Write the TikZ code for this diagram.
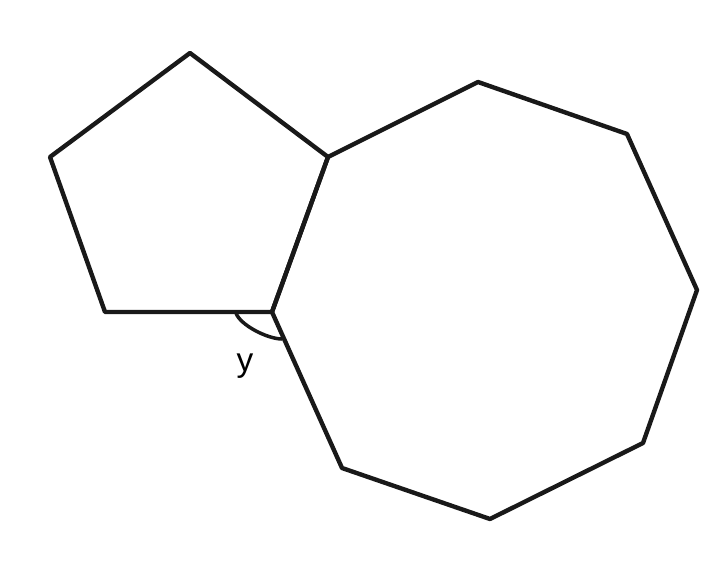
\documentclass[tikz,border=0pt]{standalone}
\usepackage{fontspec}
\newfontfamily\labelfont{Liberation Sans}
\usepackage{tikz}
\usetikzlibrary{calc}
\usepackage{tkz-euclide}

\begin{document}
\begin{tikzpicture}[scale=1]
        \useasboundingbox (0,0) rectangle (14.46,-11.70);
        \tkzDefPoints{3.80/-1.06/A,6.56/-3.14/B,5.44/-6.24/C,2.10/-6.24/D,1.00/-3.14/E}
        \tkzDefPoints{9.56/-1.64/F,12.54/-2.68/G,13.94/-5.80/H,12.86/-8.86/I,9.80/-10.38/J,6.84/-9.36/K}

	% pentagon and octagon sharing the side BC
	\tkzDrawPolygon[line width=2.5pt, color=black!90](A,B,C,D,E)
	\tkzDrawPolygon[line width=2.5pt, color=black!90](B,F,G,H,I,J,K,C)

	% angle mark at C
	\tkzDefPoints{4.72/-6.26/a1,5.64/-6.78/a2}
	\draw[line width=2pt, color=black!90] (a1) .. controls (4.80,-6.50) and (5.35,-6.78) .. (a2);
	\node[font=\labelfont\fontsize{19}{22}\selectfont] (y) at (4.90,-7.32) {y};
    \end{tikzpicture}
\end{document}
